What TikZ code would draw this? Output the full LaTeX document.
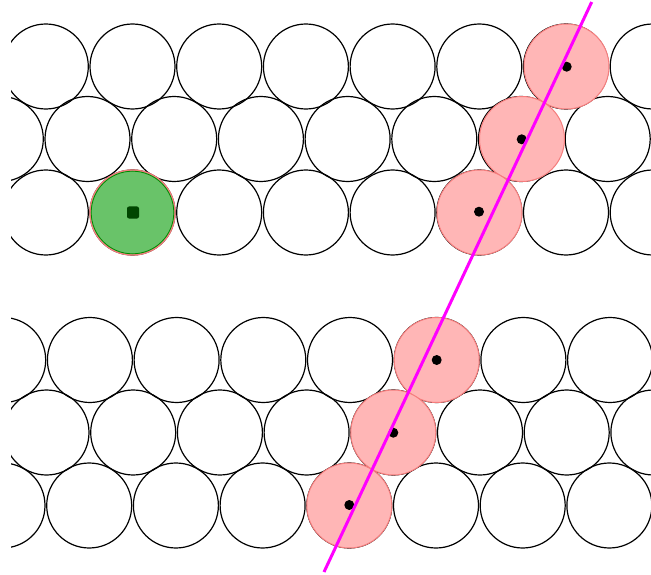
\documentclass[tikz,border=0pt]{standalone}
\definecolor{redfill}{RGB}{255,182,182}
\definecolor{rededge}{RGB}{245,125,125}
\definecolor{greenfill}{RGB}{105,195,105}
\definecolor{greenedge}{RGB}{0,135,0}
\definecolor{greencore}{RGB}{0,70,0}
\definecolor{linemag}{RGB}{255,0,255}
\begin{document}
\begin{tikzpicture}[x=1pt,y=-1pt,
  ball/.style={draw=black,line width=1.2pt},
  redball/.style={fill=redfill,draw=rededge,line width=1pt},
  greenball/.style={fill=greenfill,draw=rededge,line width=1.4pt},
  centerdot/.style={fill=black},
  magline/.style={draw=linemag,line width=3pt}]
\useasboundingbox (0,0) rectangle (651,575);
\fill[white] (0,0) rectangle (651,575);
\begin{scope}
\clip (11,0) rectangle (651,575);
\foreach \yy/\xs in {66.5/45.8, 139/0.8, 212.5/45.8, 360/3.2, 432.5/46.5, 505.5/2.5}
  \foreach \k in {0,...,7}
    \draw[ball] ({\xs+\k*86.7},\yy) circle[radius=42.5pt];
\end{scope}
% highlighted red balls
\foreach \xx/\yy in {566.5/66.5, 522/139, 479.5/212.5, 436.7/360, 393.3/432.5, 349.3/505.5}
  \draw[redball] (\xx,\yy) circle[radius=42.5pt];
% green ball
\draw[greenball] (132.5,212.5) circle[radius=42.5pt];
\draw[draw=greenedge,line width=0.8pt] (132.5,212.5) circle[radius=41.3pt];
\fill[greencore,rounded corners=2pt] (127,206.5) rectangle (139,218.5);
% centre dots
\foreach \xx/\yy in {566.7/66.7, 521.7/139.3, 479/211.7, 436.7/360, 393.3/432.7, 349.3/505}
  \fill[centerdot] (\xx,\yy) circle[radius=5pt];
% magenta line
\coordinate (ltop) at (591.7,2);
\coordinate (lbot) at (324,572);
\draw[magline] (ltop) -- (lbot);
\end{tikzpicture}
\end{document}
